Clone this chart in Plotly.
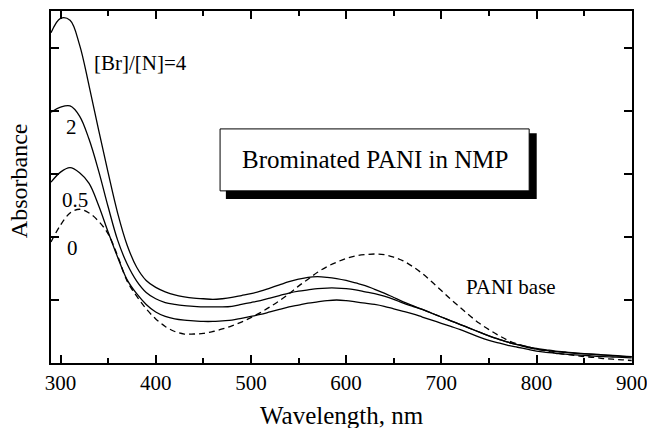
import plotly.graph_objects as go

# Wavelength grid (nm), 290 ... 900 every 10 nm
wl = list(range(290, 901, 10))

# [Br]/[N] = 4
abs_4 = [5.24, 5.47, 5.44, 5.05, 4.4, 3.7, 3.02, 2.38, 1.87, 1.52,
         1.31, 1.2, 1.13, 1.08, 1.05, 1.03, 1.02, 1.01, 1.02, 1.04,
         1.07, 1.1, 1.14, 1.19, 1.24, 1.29, 1.33, 1.36, 1.37, 1.36,
         1.34, 1.31, 1.27, 1.23, 1.17, 1.11, 1.04, 0.97, 0.91, 0.85,
         0.79, 0.73, 0.67, 0.61, 0.55, 0.49, 0.43, 0.38, 0.33, 0.29,
         0.26, 0.23, 0.21, 0.19, 0.175, 0.16, 0.15, 0.14, 0.13, 0.12,
         0.11, 0.1]

# [Br]/[N] = 2
abs_2 = [3.98, 4.06, 4.08, 3.92, 3.55, 3.05, 2.48, 1.95, 1.57, 1.3,
         1.12, 1.02, 0.96, 0.93, 0.91, 0.9, 0.89, 0.89, 0.89, 0.9,
         0.93, 0.96, 0.99, 1.03, 1.07, 1.11, 1.14, 1.16, 1.18, 1.19,
         1.19, 1.18, 1.16, 1.13, 1.1, 1.06, 1.01, 0.95, 0.9, 0.85,
         0.79, 0.73, 0.67, 0.61, 0.55, 0.49, 0.43, 0.38, 0.33, 0.29,
         0.25, 0.22, 0.2, 0.18, 0.17, 0.155, 0.145, 0.135, 0.125, 0.115,
         0.105, 0.1]

# [Br]/[N] = 0.5
abs_05 = [2.87, 3.03, 3.1, 3.02, 2.85, 2.5, 2.08, 1.68, 1.32, 1.1,
          0.93, 0.81, 0.74, 0.7, 0.68, 0.67, 0.66, 0.66, 0.67, 0.68,
          0.71, 0.74, 0.77, 0.81, 0.85, 0.89, 0.92, 0.95, 0.97, 0.99,
          1.0, 0.99, 0.97, 0.95, 0.93, 0.9, 0.86, 0.82, 0.78, 0.73,
          0.68, 0.63, 0.58, 0.53, 0.47, 0.41, 0.36, 0.32, 0.28, 0.25,
          0.22, 0.19, 0.17, 0.155, 0.14, 0.13, 0.12, 0.11, 0.1, 0.095,
          0.09, 0.08]

# PANI base ([Br]/[N] = 0)
abs_0 = [1.92, 2.19, 2.38, 2.44, 2.38, 2.25, 2.05, 1.7, 1.3, 1.06,
         0.86, 0.7, 0.58, 0.5, 0.46, 0.46, 0.47, 0.5, 0.54, 0.59,
         0.65, 0.72, 0.8, 0.89, 0.99, 1.1, 1.22, 1.33, 1.44, 1.53,
         1.6, 1.66, 1.7, 1.72, 1.73, 1.72, 1.68, 1.62, 1.53, 1.42,
         1.29, 1.15, 1.01, 0.88, 0.75, 0.63, 0.53, 0.44, 0.36, 0.3,
         0.26, 0.22, 0.19, 0.16, 0.14, 0.12, 0.1, 0.09, 0.07, 0.06,
         0.05, 0.04]

x_ticks = [300, 400, 500, 600, 700, 800, 900]
y_ticks = [1, 2, 3, 4, 5]

FONT = "Liberation Serif, Times New Roman, DejaVu Serif, serif"

fig = go.Figure()
for ys, dash in [(abs_4, "solid"), (abs_2, "solid"), (abs_05, "solid"), (abs_0, "6px,4px")]:
    fig.add_trace(go.Scatter(x=wl, y=ys, mode="lines",
                             line=dict(color="black", width=1.3, dash=dash,
                                       shape="spline", smoothing=1.0),
                             showlegend=False, hoverinfo="skip"))

# shadowed text box
fig.add_shape(type="rect", xref="paper", yref="paper", x0=0.301, x1=0.836, y0=0.466, y1=0.653,
              fillcolor="black", line=dict(color="black", width=0), layer="above")
fig.add_shape(type="rect", xref="paper", yref="paper", x0=0.291, x1=0.823, y0=0.489, y1=0.665,
              fillcolor="white", line=dict(color="black", width=1), layer="above")

ann_font = dict(family=FONT, size=21, color="black")
annotations = [
    dict(x=384.5, y=4.76, text="[Br]/[N]=4"),
    dict(x=312, y=3.75, text="2"),
    dict(x=315, y=2.59, text="0.5"),
    dict(x=313, y=1.83, text="0"),
    dict(x=773.7, y=1.21, text="PANI base"),
]
for a in annotations:
    fig.add_annotation(x=a["x"], y=a["y"], text=a["text"], showarrow=False,
                       xref="x", yref="y", font=ann_font, xanchor="center", yanchor="middle")
fig.add_annotation(x=0.557, y=0.577, xref="paper", yref="paper", text="Brominated PANI in NMP",
                   showarrow=False, font=dict(family=FONT, size=25, color="black"),
                   xanchor="center", yanchor="middle")

# axis titles
fig.add_annotation(x=0.5, y=-0.148, xref="paper", yref="paper", text="Wavelength, nm",
                   showarrow=False, font=dict(family=FONT, size=25, color="black"),
                   xanchor="center", yanchor="middle")
fig.add_annotation(x=-0.056, y=0.518, xref="paper", yref="paper", text="Absorbance",
                   showarrow=False, textangle=-90, font=dict(family=FONT, size=24, color="black"),
                   xanchor="center", yanchor="middle")

fig.update_layout(
    width=647, height=428,
    margin=dict(l=51, r=15, t=11, b=65),
    paper_bgcolor="white", plot_bgcolor="white",
    font=dict(family=FONT, color="black"),
)
fig.update_xaxes(
    range=[290, 900.3], tickvals=x_ticks, ticktext=[str(v) for v in x_ticks],
    ticks="inside", ticklen=8, tickwidth=1.5, tickcolor="black",
    minor=dict(dtick=50, tick0=300, ticks="inside", ticklen=5, tickwidth=1.5, tickcolor="black"),
    showline=True, linewidth=2, linecolor="black", mirror="allticks",
    showgrid=False, zeroline=False, automargin=False, ticklabeloverflow="allow",
    tickfont=dict(family=FONT, size=21, color="black"),
)
fig.update_yaxes(
    range=[0, 5.587], tickvals=y_ticks, showticklabels=False,
    ticks="inside", ticklen=8, tickwidth=1.5, tickcolor="black",
    showline=True, linewidth=2, linecolor="black", mirror="allticks",
    showgrid=False, zeroline=False, automargin=False,
)

fig.write_html("out.html")
